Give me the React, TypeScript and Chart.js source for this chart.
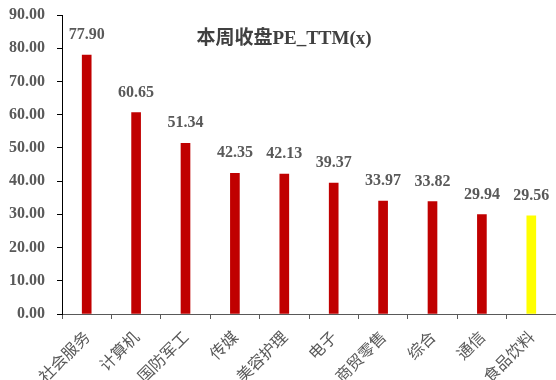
import React, { useEffect, useRef } from "react";
import { Chart, registerables } from "chart.js";

Chart.register(...registerables);

const categories = ["社会服务", "计算机", "国防军工", "传媒", "美容护理", "电子", "商贸零售", "综合", "通信", "食品饮料"];
const values = [77.9, 60.65, 51.34, 42.35, 42.13, 39.37, 33.97, 33.82, 29.94, 29.56];
const highlightCategory = "食品饮料";
const chartTitle = "本周收盘PE_TTM(x)";
const yMin = 0;
const yMax = 90;
const yStep = 10;

const RED = "#C00000";
const YELLOW = "#FFFF00";
const GRAY = "#595959";

const overlayPlugin = {
  id: "overlay",
  afterDatasetsDraw(chart: any) {
    const ctx = chart.ctx;
    const meta = chart.getDatasetMeta(0);
    ctx.save();
    ctx.fillStyle = GRAY;
    ctx.font = "bold 16px 'Liberation Serif', 'Times New Roman', serif";
    ctx.textAlign = "center";
    ctx.textBaseline = "alphabetic";
    meta.data.forEach((bar: any, i: number) => {
      ctx.fillText(values[i].toFixed(2), bar.x, bar.y - 16);
    });
    ctx.fillStyle = "#404040";
    ctx.font = "bold 19px 'Liberation Serif', 'Noto Sans CJK SC', serif";
    ctx.textBaseline = "middle";
    ctx.fillText(chartTitle, chart.width / 2 + 6, 39);
    ctx.restore();
  },
};

export default function App() {
  const ref = useRef<HTMLCanvasElement>(null);
  useEffect(() => {
    document.body.style.margin = "0";
    const chart = new Chart(ref.current!, {
      type: "bar",
      data: {
        labels: categories,
        datasets: [
          {
            data: values,
            backgroundColor: categories.map((c) => (c === highlightCategory ? YELLOW : RED)),
            barThickness: 9,
          },
        ],
      },
      options: {
        animation: false,
        responsive: false,
        maintainAspectRatio: false,
        layout: { padding: { top: 15, right: 0, left: 0, bottom: 0 } },
        plugins: { legend: { display: false }, tooltip: { enabled: false }, title: { display: false } },
        scales: {
          x: {
            grid: { display: true, drawOnChartArea: false, drawTicks: true, tickLength: 5, color: GRAY, offset: true },
            border: { display: true, color: GRAY, width: 1 },
            ticks: {
              color: GRAY,
              font: { family: "'Noto Sans CJK SC', sans-serif", size: 16 },
              minRotation: 45,
              maxRotation: 45,
              padding: 8,
              autoSkip: false,
            },
            afterFit(scale: any) {
              scale.height = 66;
              scale.paddingRight = 0;
              scale.paddingLeft = 0;
            },
          },
          y: {
            min: yMin,
            max: yMax,
            grid: { display: true, drawOnChartArea: false, drawTicks: true, tickLength: 5, color: "#000" },
            border: { display: true, color: "#000", width: 1 },
            ticks: {
              stepSize: yStep,
              color: GRAY,
              font: { family: "'Liberation Serif', 'Times New Roman', serif", size: 16, weight: "bold" },
              padding: 12,
              callback: (v: any) => Number(v).toFixed(2),
            },
            afterFit(scale: any) {
              scale.width = 62;
              scale.paddingTop = 0;
              scale.paddingBottom = 0;
            },
          },
        },
      },
      plugins: [overlayPlugin],
    } as any);
    return () => chart.destroy();
  }, []);
  return (
    <div style={{ width: 556, height: 380 }}>
      <canvas ref={ref} width={556} height={380} style={{ width: 556, height: 380 }} />
    </div>
  );
}
